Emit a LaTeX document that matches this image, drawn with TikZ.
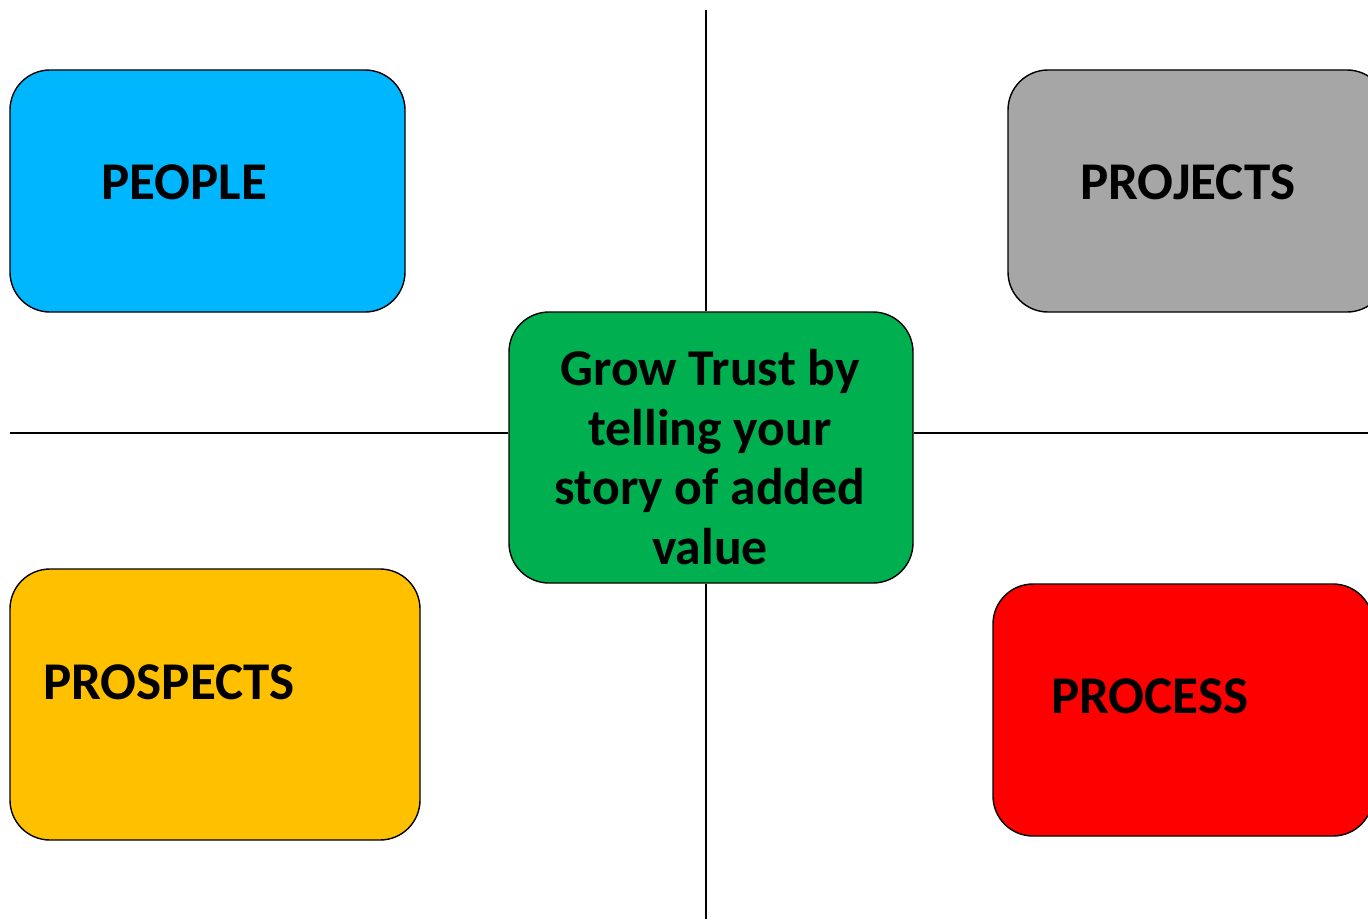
\documentclass[tikz,border=0pt]{standalone}
\usepackage{fontspec}
\setmainfont{Carlito}
\begin{document}
\begin{tikzpicture}[x=0.02cm,y=-0.02cm,
  box/.style={draw=black,line width=0.8pt,rounded corners=0.8cm,inner sep=0pt},
  lbl/.style={font=\bfseries\fontsize{30.2}{34}\selectfont,inner sep=0pt,anchor=base west},
  axis/.style={draw=black,line width=0.8pt}]
\useasboundingbox (0,0) rectangle (1368,919);
\clip (0,0) rectangle (1368,919);
% axes
\coordinate (top) at (706,10);
\coordinate (bot) at (706,919);
\coordinate (lft) at (10,433);
\coordinate (rgt) at (1368,433);
\node[box,fill={rgb,255:red,0;green,176;blue,80},minimum width=404*0.02cm,minimum height=271*0.02cm] (c) at (711,447.5) {};
\draw[axis] (top) -- (c.north -| top);
\draw[axis] (c.south -| bot) -- (bot);
\draw[axis] (lft) -- (c.west |- lft);
\draw[axis] (c.east |- rgt) -- (rgt);
\node[font=\bfseries\fontsize{29.4}{34}\selectfont,align=center,inner sep=0pt] (ct) at (710,457) {Grow Trust by\\telling your\\story of added\\value};
% boxes
\node[box,fill={rgb,255:red,0;green,183;blue,255},minimum width=395*0.02cm,minimum height=242*0.02cm] (people) at (207.5,191) {};
\node[lbl] (peoplet) at (101,199) {PEOPLE};
\node[box,fill={rgb,255:red,166;green,166;blue,166},minimum width=379*0.02cm,minimum height=242*0.02cm] (projects) at (1197.5,191) {};
\node[lbl] (projectst) at (1080,199) {PROJECTS};
\node[box,fill={rgb,255:red,255;green,192;blue,0},minimum width=410*0.02cm,minimum height=271*0.02cm] (prospects) at (215,704.5) {};
\node[lbl] (prospectst) at (43,699) {PROSPECTS};
\node[box,fill={rgb,255:red,255;green,0;blue,0},minimum width=380*0.02cm,minimum height=252*0.02cm] (process) at (1183,710) {};
\node[lbl] (processt) at (1051,713) {PROCESS};
\end{tikzpicture}
\end{document}
